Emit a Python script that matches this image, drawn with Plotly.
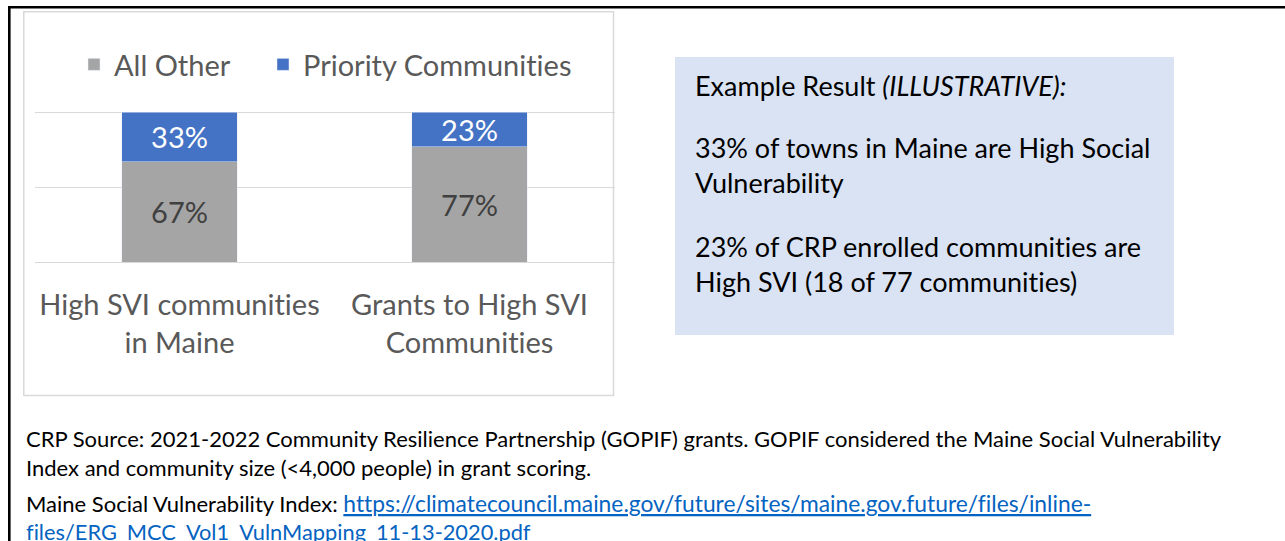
import plotly.graph_objects as go

W, H = 1285, 541

categories = ["High SVI communities<br>in Maine", "Grants to High SVI<br>Communities"]
all_other = [0.67, 0.77]
priority = [0.33, 0.23]
series_names = ["All Other", "Priority Communities"]
colors = ["#A5A5A5", "#4472C4"]

box_title = "Example Result <i>(ILLUSTRATIVE):</i>"
box_par1 = "33% of towns in Maine are High Social<br>Vulnerability"
box_par2 = "23% of CRP enrolled communities are<br>High SVI (18 of 77 communities)"

note1 = ("CRP Source: 2021-2022 Community Resilience Partnership (GOPIF) grants. GOPIF considered the Maine Social Vulnerability"
         "<br>Index and community size (&lt;4,000 people) in grant scoring.")
note2_plain = "Maine Social Vulnerability Index: "
note2_link = "https://climatecouncil.maine.gov/future/sites/maine.gov.future/files/inline-"
note3_link = "files/ERG_MCC_Vol1_VulnMapping_11-13-2020.pdf"

FONT = "Lato"


def px(x):
    return x / W


def py(y):
    return 1 - y / H


fig = go.Figure()
fig.add_trace(go.Bar(
    x=categories, y=all_other, name=series_names[0], marker_color=colors[0],
    text=[f"{v:.0%}" for v in all_other], textposition="inside",
    insidetextanchor="middle", textangle=0, constraintext="none",
    textfont=dict(family=FONT, size=29, color="#404040"),
    hoverinfo="skip", legend="legend",
))
fig.add_trace(go.Bar(
    x=categories, y=priority, name=series_names[1], marker_color=colors[1],
    text=[f"{v:.0%}" for v in priority], textposition="inside",
    insidetextanchor="middle", textangle=0, constraintext="none",
    textfont=dict(family=FONT, size=29, color="#FFFFFF"),
    hoverinfo="skip", legend="legend2",
))

shapes = [
    # outer frame lines
    dict(type="line", xref="paper", yref="paper", x0=px(8), x1=px(1290), y0=py(7.3), y1=py(7.3),
         line=dict(color="black", width=2.6)),
    dict(type="line", xref="paper", yref="paper", x0=px(9.3), x1=px(9.3), y0=py(6), y1=py(545),
         line=dict(color="black", width=2.6)),
    # chart border
    dict(type="rect", xref="paper", yref="paper", x0=px(23.8), x1=px(613.5), y0=py(11.8), y1=py(395.5),
         line=dict(color="#D9D9D9", width=1.5), layer="below"),
    # text box
    dict(type="rect", xref="paper", yref="paper", x0=px(675), x1=px(1174), y0=py(57), y1=py(335),
         fillcolor="#DAE3F3", line=dict(width=0), layer="below"),
]

annotations = [
    dict(text=box_title, x=px(693), y=py(85.5), xanchor="left", yanchor="middle"),
    dict(text=box_par1, x=px(693), y=py(165), xanchor="left", yanchor="middle"),
    dict(text=box_par2, x=px(693), y=py(264), xanchor="left", yanchor="middle"),
]
for a in annotations:
    a.update(xref="paper", yref="paper", showarrow=False, align="left",
             font=dict(family=FONT, size=27, color="#000000"))

notes = [
    dict(text=note1, x=px(24), y=py(452.5), font=dict(family=FONT, size=22, color="#000000")),
    dict(text=note2_plain + f"<span style='color:#0563C1;font-size:22.8px'><u>{note2_link}</u></span>",
         x=px(24), y=py(503), font=dict(family=FONT, size=22, color="#000000")),
    dict(text=f"<u>{note3_link}</u>", x=px(24), y=py(531),
         font=dict(family=FONT, size=21.8, color="#0563C1")),
]
for a in notes:
    a.update(xref="paper", yref="paper", showarrow=False, align="left",
             xanchor="left", yanchor="middle")
annotations += notes

legend_common = dict(orientation="h", yanchor="top", xanchor="left",
                     font=dict(family=FONT, size=29, color="#595959"),
                     bgcolor="rgba(0,0,0,0)")

# y axis: 150 px per unit, with a little headroom so the top gridline (1.0) is drawn
Y_TOP = 1 + 2.5 / 150

fig.update_layout(
    width=W, height=H, autosize=False,
    margin=dict(l=0, r=0, t=0, b=0),
    paper_bgcolor="white", plot_bgcolor="white",
    barmode="stack", bargap=0.603,
    font=dict(family=FONT, color="#595959"),
    showlegend=True,
    legend=dict(x=px(74), y=py(39), **legend_common),
    legend2=dict(x=px(263), y=py(39), **legend_common),
    xaxis=dict(domain=[px(34.5), px(614.5)], showgrid=False, showline=False, zeroline=False,
               ticks="", tickfont=dict(family=FONT, size=29, color="#595959"),
               ticklabelstandoff=23, fixedrange=True),
    yaxis=dict(domain=[py(262), py(109.5)], range=[0, Y_TOP], tickvals=[0, 0.5, 1],
               showticklabels=False,
               showgrid=True, gridcolor="#D9D9D9", gridwidth=1.3, zeroline=True,
               zerolinecolor="#D9D9D9", zerolinewidth=1.3, fixedrange=True),
    shapes=shapes,
    annotations=annotations,
)

post = """
document.body.style.margin = '0';
document.body.style.overflow = 'hidden';
var st = document.createElement('style');
st.textContent = 'svg text { font-variant-ligatures: none !important; font-feature-settings: "liga" 0, "clig" 0 !important; }';
document.head.appendChild(st);
"""

fig.write_html("out.html", post_script=post, config={"displayModeBar": False})
